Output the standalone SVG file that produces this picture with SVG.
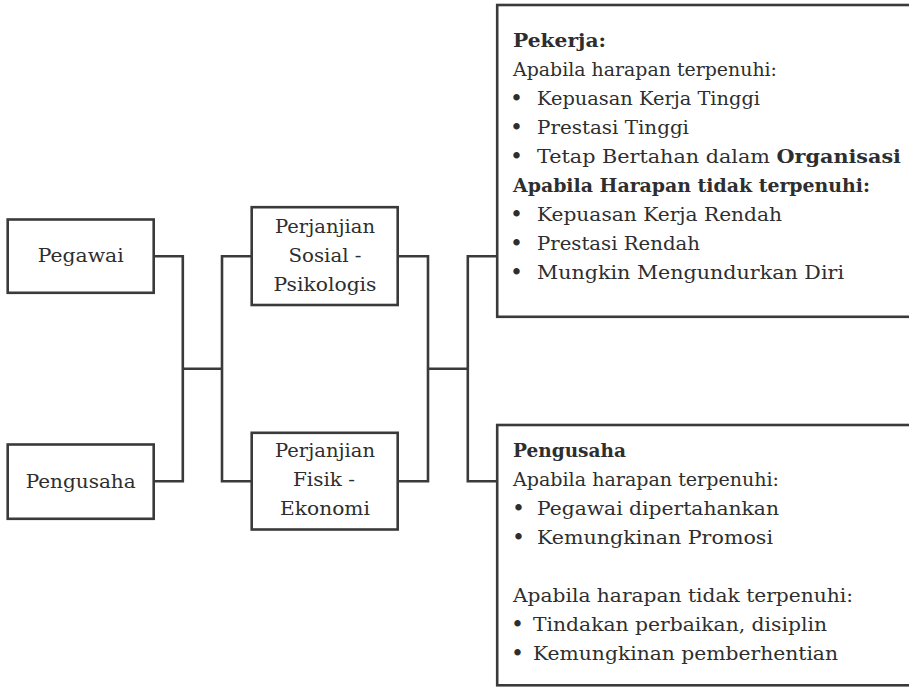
<svg xmlns="http://www.w3.org/2000/svg" width="909" height="687" viewBox="0 0 909 687">
  <style>
    .box { fill: #ffffff; stroke: #3a3a3a; stroke-width: 2.6; }
    .wire { fill: none; stroke: #3a3a3a; stroke-width: 2.6; stroke-linejoin: miter; }
    text { font-family: "DejaVu Serif", "Liberation Serif", serif; font-size: 19px; fill: #2e2e2e; }
    .c { text-anchor: middle; }
    .b { font-weight: bold; }
    .dot { font-size: 22px; }
  </style>

  <!-- connectors -->
  <g id="connectors" class="wire">
    <!-- parties to the contract pair -->
    <polyline points="153.7,256.2 182.8,256.2 182.8,481.2 153.7,481.2"/>
    <line x1="182.8" y1="368.8" x2="222" y2="368.8"/>
    <polyline points="251.7,256.2 222,256.2 222,481.2 251.7,481.2"/>
    <!-- contracts to outcomes -->
    <polyline points="397.7,256.2 428,256.2 428,481.2 397.7,481.2"/>
    <line x1="428" y1="368.8" x2="467.8" y2="368.8"/>
    <polyline points="497.2,256.2 467.8,256.2 467.8,481.2 497.2,481.2"/>
  </g>

  <g id="pegawai">
    <rect class="box" x="7.7" y="219.5" width="146" height="73.3"/>
    <text class="c" x="80.7" y="262" textLength="86" lengthAdjust="spacingAndGlyphs">Pegawai</text>
  </g>

  <g id="pengusaha">
    <rect class="box" x="7.7" y="444.5" width="146" height="74.3"/>
    <text class="c" x="80.7" y="488" textLength="110" lengthAdjust="spacingAndGlyphs">Pengusaha</text>
  </g>

  <g id="perjanjian-sosial">
    <rect class="box" x="251.7" y="207.2" width="146" height="97.8"/>
    <text class="c" x="325" y="232.5" textLength="100" lengthAdjust="spacingAndGlyphs">Perjanjian</text>
    <text class="c" x="325" y="261.5" textLength="73" lengthAdjust="spacingAndGlyphs">Sosial -</text>
    <text class="c" x="325" y="290.5" textLength="103" lengthAdjust="spacingAndGlyphs">Psikologis</text>
  </g>

  <g id="perjanjian-fisik">
    <rect class="box" x="251.7" y="432.8" width="146" height="96.7"/>
    <text class="c" x="325" y="457" textLength="100" lengthAdjust="spacingAndGlyphs">Perjanjian</text>
    <text class="c" x="324" y="486" textLength="62" lengthAdjust="spacingAndGlyphs">Fisik -</text>
    <text class="c" x="325" y="515" textLength="90" lengthAdjust="spacingAndGlyphs">Ekonomi</text>
  </g>

  <g id="hasil-pekerja">
    <rect class="box" x="497.2" y="5" width="420" height="311.8"/>
    <text class="b" x="513" y="47" textLength="93" lengthAdjust="spacingAndGlyphs">Pekerja:</text>
    <text x="513" y="76" textLength="264" lengthAdjust="spacingAndGlyphs">Apabila harapan terpenuhi:</text>
    <text class="dot" x="510" y="106">•</text>
    <text x="537" y="105" textLength="223" lengthAdjust="spacingAndGlyphs">Kepuasan Kerja Tinggi</text>
    <text class="dot" x="510" y="135">•</text>
    <text x="537" y="134" textLength="152" lengthAdjust="spacingAndGlyphs">Prestasi Tinggi</text>
    <text class="dot" x="510" y="164">•</text>
    <text x="537" y="163" textLength="364" lengthAdjust="spacingAndGlyphs">Tetap Bertahan dalam <tspan class="b">Organisasi</tspan></text>
    <text class="b" x="513" y="192" textLength="357" lengthAdjust="spacingAndGlyphs">Apabila Harapan tidak terpenuhi:</text>
    <text class="dot" x="510" y="222">•</text>
    <text x="537" y="221" textLength="245" lengthAdjust="spacingAndGlyphs">Kepuasan Kerja Rendah</text>
    <text class="dot" x="510" y="251">•</text>
    <text x="537" y="250" textLength="163" lengthAdjust="spacingAndGlyphs">Prestasi Rendah</text>
    <text class="dot" x="510" y="280">•</text>
    <text x="537" y="279" textLength="307" lengthAdjust="spacingAndGlyphs">Mungkin Mengundurkan Diri</text>
  </g>

  <g id="hasil-pengusaha">
    <rect class="box" x="497.2" y="425" width="420" height="260.3"/>
    <text class="b" x="513" y="457" textLength="113" lengthAdjust="spacingAndGlyphs">Pengusaha</text>
    <text x="513" y="486" textLength="266" lengthAdjust="spacingAndGlyphs">Apabila harapan terpenuhi:</text>
    <text class="dot" x="512" y="516">•</text>
    <text x="537" y="515" textLength="242" lengthAdjust="spacingAndGlyphs">Pegawai dipertahankan</text>
    <text class="dot" x="512" y="545">•</text>
    <text x="537" y="544" textLength="236" lengthAdjust="spacingAndGlyphs">Kemungkinan Promosi</text>
    <text x="513" y="602" textLength="340" lengthAdjust="spacingAndGlyphs">Apabila harapan tidak terpenuhi:</text>
    <text class="dot" x="511" y="632">•</text>
    <text x="533" y="631" textLength="294" lengthAdjust="spacingAndGlyphs">Tindakan perbaikan, disiplin</text>
    <text class="dot" x="511" y="661">•</text>
    <text x="533" y="660" textLength="305" lengthAdjust="spacingAndGlyphs">Kemungkinan pemberhentian</text>
  </g>
</svg>
